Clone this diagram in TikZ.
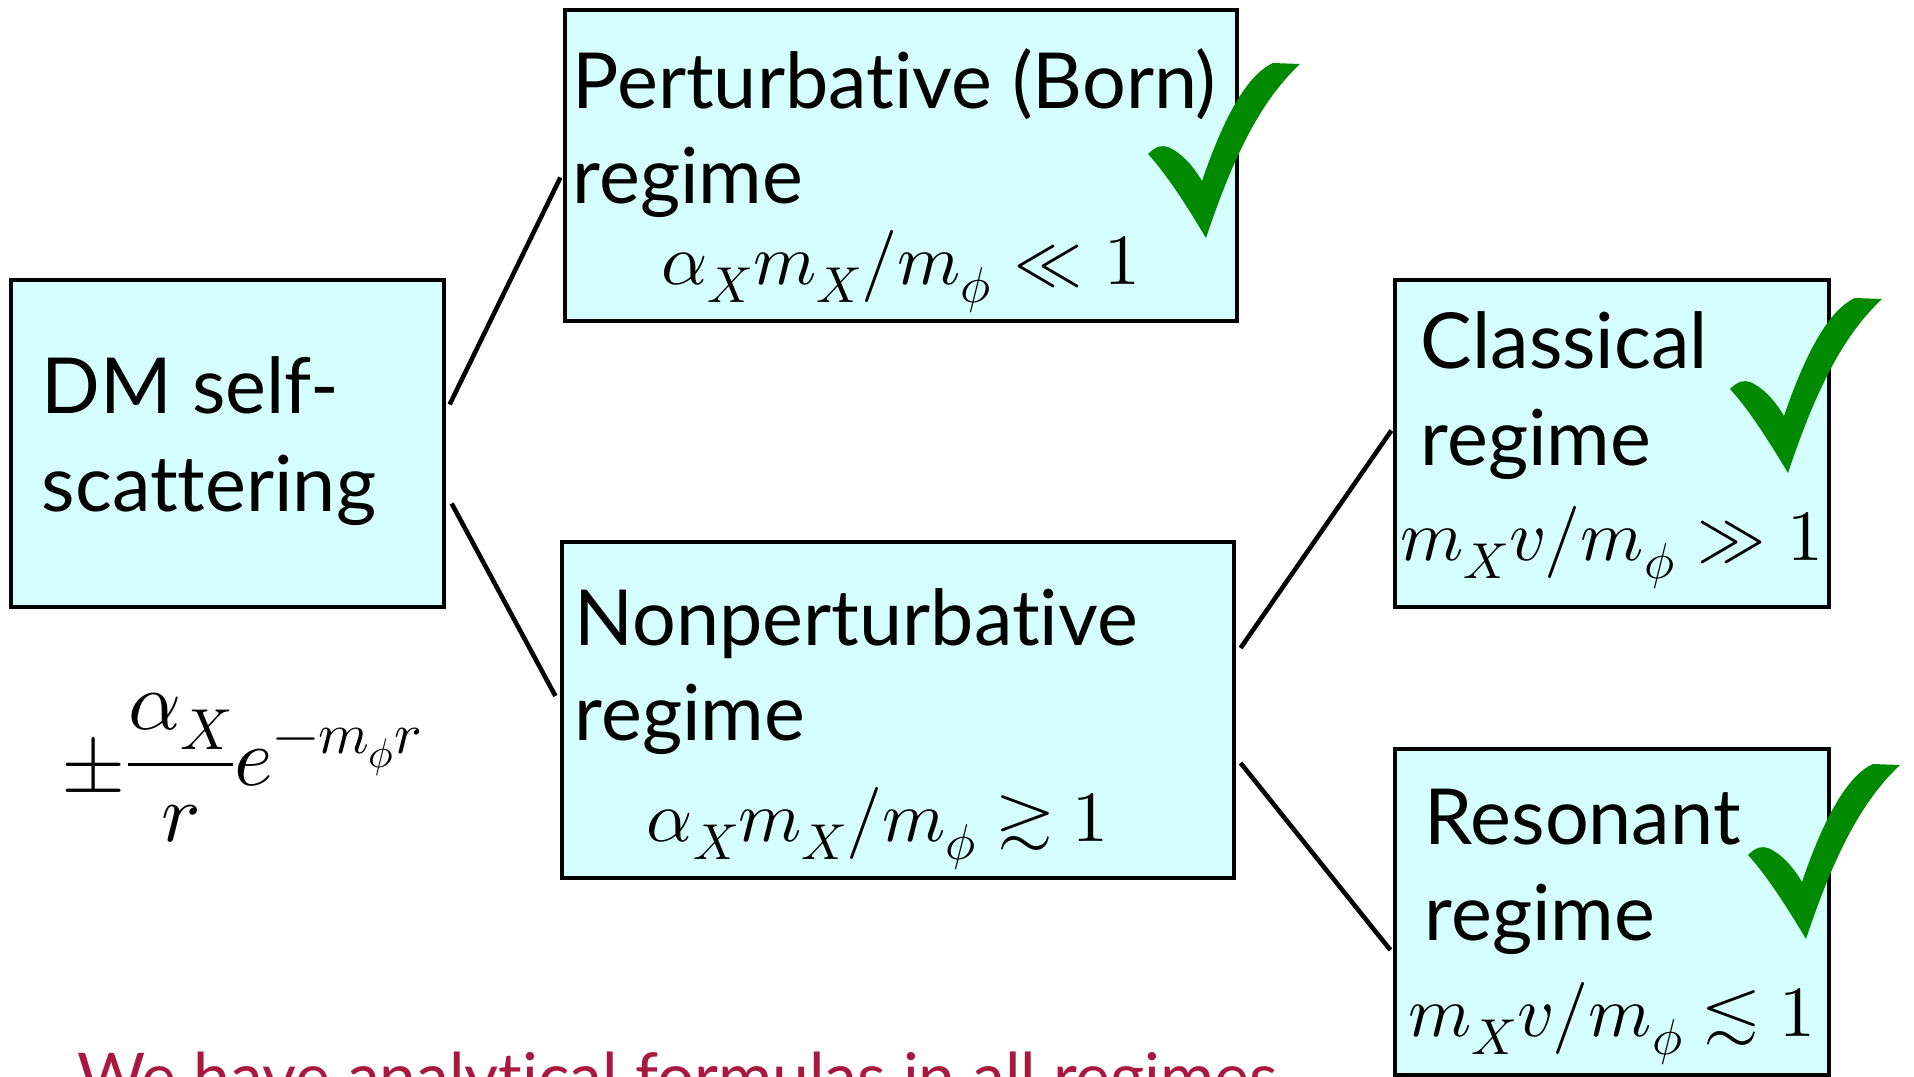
\documentclass[tikz,border=0pt]{standalone}
\usepackage{amsmath}
\usepackage{fontspec}
\usepackage{unicode-math}
\setmainfont{Lato}[Ligatures=NoCommon]
\usetikzlibrary{calc,positioning}

\definecolor{boxcyan}{RGB}{213,255,255}
\definecolor{tickgreen}{RGB}{0,138,0}
\definecolor{notered}{RGB}{168,24,64}

\tikzset{
    regime/.style={draw=black, line width=1.9pt, fill=boxcyan, inner sep=0pt},
    title/.style={anchor=base west, inner sep=0pt, font=\fontsize{44}{52}\selectfont},
    cond/.style={anchor=base, inner sep=0pt, font=\fontsize{41}{48}\selectfont},
    link/.style={line width=2.6pt},
    tick/.pic={
        \fill[tickgreen] (0,0) .. controls (-18,-30) and (-38,-62) .. (-58,-84)
            .. controls (-50,-92) and (-44,-93) .. (-38,-91)
            .. controls (-26,-86) and (-14,-74) .. (-4,-57)
            .. controls (14,-110) and (38,-162) .. (67,-175) -- (94,-174)
            .. controls (58,-140) and (30,-90) .. (0,0) -- cycle;
    }
}

\begin{document}
\begin{tikzpicture}[x=0.02cm, y=-0.02cm]
        \clip (0,0) rectangle (1914,1077);

        \node[regime, minimum width=8.66cm, minimum height=6.54cm] (dm) at (227.5,443.5) {};
        \node[regime, minimum width=13.44cm, minimum height=6.22cm] (born) at (901,165.5) {};
        \node[regime, minimum width=13.44cm, minimum height=6.72cm] (nonpert) at (898,710) {};
        \node[regime, minimum width=8.68cm, minimum height=6.54cm] (classical) at (1612,443.5) {};
        \node[regime, minimum width=8.68cm, minimum height=6.52cm] (resonant) at (1612,912) {};

        \node[title] (dm-l1) at ($(dm.north west)+(32,135)$) {DM self-};
        \node[title] (dm-l2) at ($(dm-l1.base west)+(0,98)$) {scattering};
        \node[cond, font=\fontsize{47}{54}\selectfont] (potential) at (242,785) {$\pm\dfrac{\alpha_X}{r}e^{-m_\phi r}$};

        \node[title] (born-l1) at ($(born.north west)+(9,100)$) {Perturbative (Born)};
        \node[title] (born-l2) at ($(born-l1.base west)+(0,95)$) {regime};
        \node[cond] (born-c) at ($(born.south)+(0,-38)$) {$\alpha_X m_X/m_\phi \ll 1$};

        \node[title] (nonpert-l1) at ($(nonpert.north west)+(14,105)$) {Nonperturbative};
        \node[title] (nonpert-l2) at ($(nonpert-l1.base west)+(0,95)$) {regime};
        \node[cond] (nonpert-c) at ($(nonpert.south)+(-20,-38)$) {$\alpha_X m_X/m_\phi \gtrsim 1$};

        \node[title] (classical-l1) at ($(classical.north west)+(27,90)$) {Classical};
        \node[title] (classical-l2) at ($(classical-l1.base west)+(0,97)$) {regime};
        \node[cond] (classical-c) at ($(classical.south)+(0,-48)$) {$m_X v/m_\phi \gg 1$};

        \node[title] (resonant-l1) at ($(resonant.north west)+(31,97)$) {Resonant};
        \node[title] (resonant-l2) at ($(resonant-l1.base west)+(0,96)$) {regime};
        \node[cond] (resonant-c) at ($(resonant.south)+(0,-40)$) {$m_X v/m_\phi \lesssim 1$};

        \draw[link] ($(dm.east)+(4,-39)$) -- ($(born.west)+(-3,12)$);
        \draw[link] ($(dm.east)+(6,60)$) -- ($(nonpert.west)+(-5,-14)$);
        \draw[link] ($(nonpert.east)+(5,-62)$) -- ($(classical.west)+(-2,-13)$);
        \draw[link] ($(nonpert.east)+(5,53)$) -- ($(resonant.west)+(-3,38)$);

        \pic at (1206,238) {tick};
        \pic at (1788,473) {tick};
        \pic at (1806,939) {tick};

        \node[title, font=\fontsize{37.5}{45}\selectfont, text=notered] (note) at (77,1100) {We have analytical formulas in all regimes};
    \end{tikzpicture}
\end{document}
